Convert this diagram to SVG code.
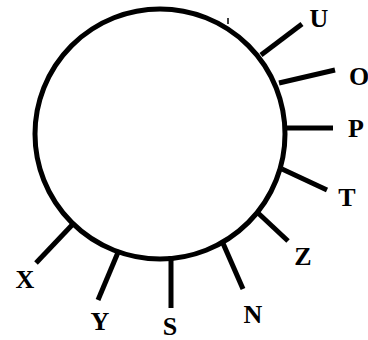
<svg xmlns="http://www.w3.org/2000/svg" width="368" height="340" viewBox="0 0 368 340">
<style>
.c{fill:none;stroke:#000;stroke-width:5}
.s{stroke:#000;stroke-width:5;stroke-linecap:butt}
.t{font-family:"Liberation Serif","Times New Roman",serif;font-weight:bold;font-size:26px;fill:#000;text-anchor:middle}
</style>
<rect width="368" height="340" fill="#fff"/>
<g id="ring"><circle class="c" cx="160" cy="134" r="125"/><line x1="228" y1="18" x2="228" y2="24" stroke="#000" stroke-width="1.5"/></g>
<g id="connectors">
<line class="s" x1="261" y1="55" x2="302" y2="24"/>
<line class="s" x1="279" y1="83" x2="335" y2="70"/>
<line class="s" x1="286" y1="128" x2="333" y2="128"/>
<line class="s" x1="282" y1="169" x2="327" y2="190"/>
<line class="s" x1="257" y1="212" x2="288" y2="241"/>
<line class="s" x1="222" y1="241" x2="243" y2="289"/>
<line class="s" x1="171" y1="256" x2="171" y2="308"/>
<line class="s" x1="119" y1="250" x2="98" y2="300"/>
<line class="s" x1="73" y1="224" x2="36" y2="263"/>
</g>
<g id="U"><text class="t" x="319" y="27">U</text></g>
<g id="O"><text class="t" x="359" y="85">O</text></g>
<g id="P"><text class="t" x="356" y="137">P</text></g>
<g id="T"><text class="t" x="347" y="206">T</text></g>
<g id="Z"><text class="t" x="303" y="265">Z</text></g>
<g id="N"><text class="t" x="253" y="323">N</text></g>
<g id="S"><text class="t" x="170" y="335">S</text></g>
<g id="Y"><text class="t" x="100" y="330">Y</text></g>
<g id="X"><text class="t" x="25" y="288">X</text></g>
</svg>
